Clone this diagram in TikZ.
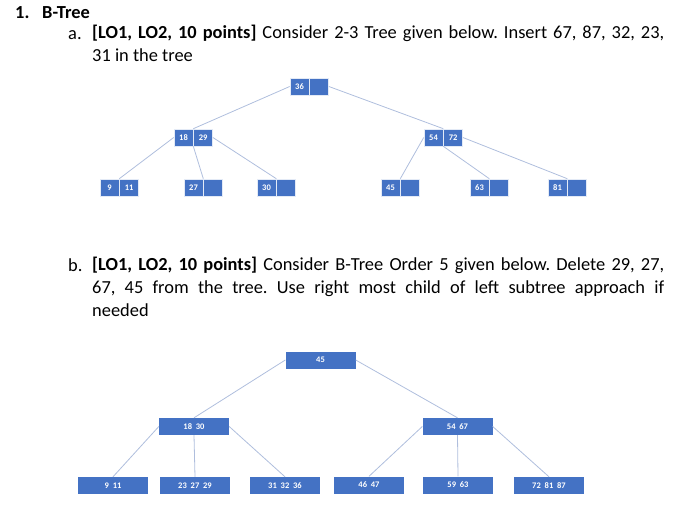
\documentclass[tikz,border=0pt]{standalone}
\usepackage{fontspec}
\setmainfont{Carlito}
\usetikzlibrary{positioning}
\begin{document}
\begin{tikzpicture}[x=1pt,y=-1pt,
  cell/.style={fill=cblue,draw=white!85!cblue,line width=0.6pt,minimum width=19pt,minimum height=17pt,inner sep=0pt,text=white,font=\fontsize{8.5}{9}\selectfont\bfseries},
  box/.style={fill=cblue,draw=none,minimum width=70pt,minimum height=17pt,inner sep=0pt,text=white,font=\fontsize{8.5}{9}\selectfont\bfseries},
  edge/.style={draw=eblue,line width=0.8pt},
  txt/.style={anchor=base west,inner sep=0pt,font=\fontsize{18.4}{23}\selectfont\frenchspacing}]
\definecolor{cblue}{HTML}{4472C4}
\definecolor{eblue}{HTML}{AFBEDD}
\useasboundingbox (0,0) rectangle (700,522);
% text
\node[txt] (h1) at (15,18) {\textbf{1.}};
\node[txt] (h) at (42,18) {\textbf{B-Tree}};
\node[txt] (a) at (68,39) {a.};
\node[txt,anchor=north west,text width=572pt,align=justify] (at) at (92,25) {\textbf{[LO1, LO2, 10 points]} Consider 2-3 Tree given below. Insert 67, 87, 32, 23,\linebreak 31 in the tree};
\node[txt] (b) at (68,271) {b.};
\node[txt,anchor=north west,text width=572pt,align=justify] (bt) at (92,257) {\textbf{[LO1, LO2, 10 points]} Consider B-Tree Order 5 given below. Delete 29, 27,\linebreak 67, 45 from the tree. Use right most child of left subtree approach if\linebreak needed};
% top tree
\node[cell] (r1) at (299.5,86.5) {36}; \node[cell,right=0pt of r1] (r2) {};
\node[cell] (l1) at (183.5,137.5) {18}; \node[cell,right=0pt of l1] (l2) {29};
\node[cell] (m1) at (433.5,137.5) {54}; \node[cell,right=0pt of m1] (m2) {72};
\node[cell] (p1) at (109.5,187.5) {9}; \node[cell,right=0pt of p1] (p2) {11};
\node[cell] (q1) at (193.5,187.5) {27}; \node[cell,right=0pt of q1] (q2) {};
\node[cell] (s1) at (266.5,187.5) {30}; \node[cell,right=0pt of s1] (s2) {};
\node[cell] (t1) at (390.5,187.5) {45}; \node[cell,right=0pt of t1] (t2) {};
\node[cell] (u1) at (479.5,187.5) {63}; \node[cell,right=0pt of u1] (u2) {};
\node[cell] (v1) at (557.5,187.5) {81}; \node[cell,right=0pt of v1] (v2) {};
\draw[edge] (r1.west) -- (l1.north east);
\draw[edge] (r2.east) -- (m1.north east);
\draw[edge] (l1.west) -- (p1.north east);
\draw[edge] (l1.south east) -- (q1.north east);
\draw[edge] (l2.east) -- (s1.north east);
\draw[edge] (m1.west) -- (t1.north east);
\draw[edge] (m1.south east) -- (u1.north east);
\draw[edge] (m2.east) -- (v1.north east);
% bottom tree
\node[box] (R) at (320.5,360) {45};
\node[box] (L) at (194,426.5) {18\ \ 30};
\node[box] (M) at (457.5,426.5) {54\ \ 67};
\node[box] (A) at (113,485.5) {9\ \ 11};
\node[box] (B) at (195,485.5) {23\ \ 27\ \ 29};
\node[box] (C) at (285,485.5) {31\ \ 32\ \ 36};
\node[box] (D) at (369,485) {46\ \ 47};
\node[box] (E) at (458,485) {59\ \ 63};
\node[box] (F) at (549,485.5) {72\ \ 81\ \ 87};
\draw[edge] (R.west) -- (L.north);
\draw[edge] (R.east) -- (M.north);
\draw[edge] (L.west) -- (A.north);
\draw[edge] (L.south) -- (B.north);
\draw[edge] (L.east) -- (C.north);
\draw[edge] (M.west) -- (D.north);
\draw[edge] (M.south) -- (E.north);
\draw[edge] (M.east) -- (F.north);
\end{tikzpicture}
\end{document}
